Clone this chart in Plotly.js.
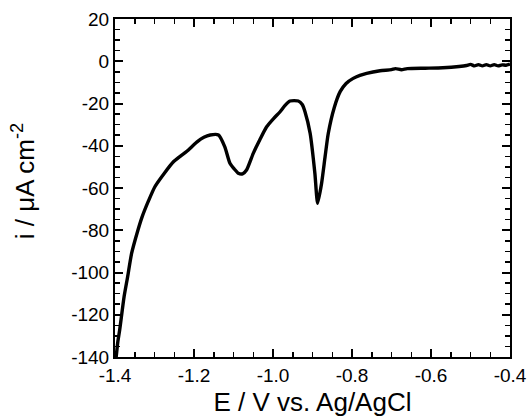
<!DOCTYPE html>
<html>
<head>
<meta charset="utf-8">
<script src="https://cdn.plot.ly/plotly-3.0.1.min.js"></script>
<style>html,body{margin:0;padding:0;background:#fff;}#chart{width:529px;height:419px;}</style>
</head>
<body>
<div id="chart"></div>
<script>
const potential = [-1.397, -1.393, -1.388, -1.377, -1.368, -1.358, -1.342, -1.332, -1.315, -1.299, -1.275, -1.252, -1.235, -1.218, -1.193, -1.175, -1.159, -1.138, -1.122, -1.109, -1.098, -1.088, -1.077, -1.067, -1.050, -1.033, -1.016, -0.998, -0.982, -0.970, -0.957, -0.936, -0.926, -0.919, -0.906, -0.894, -0.887, -0.877, -0.868, -0.860, -0.845, -0.830, -0.815, -0.797, -0.780, -0.763, -0.729, -0.700, -0.690, -0.675, -0.660, -0.615, -0.570, -0.529, -0.510, -0.500, -0.490, -0.480, -0.470, -0.460, -0.450, -0.440, -0.430, -0.420, -0.410, -0.400];
const current = [-140, -133, -127, -111.5, -102, -91, -80, -74, -66, -59.4, -53, -47.6, -45, -42.6, -38.3, -36, -34.9, -34.9, -40.5, -48.3, -51, -53, -53.3, -51.5, -43.6, -37, -31, -27, -23.9, -21, -18.8, -18.8, -20.5, -23.9, -34.1, -53, -67.2, -57.8, -45, -34.1, -22, -14.4, -10.5, -8.1, -6.7, -5.7, -4.5, -4.0, -3.5, -4.0, -3.5, -3.3, -3.1, -2.5, -2.0, -1.5, -2.2, -1.6, -2.2, -1.6, -2.2, -1.6, -2.2, -1.7, -1.9, -1.3];
const xRange = [-1.4, -0.4];
const yRange = [-140, 20];
const xTickVals = [-1.4, -1.2, -1.0, -0.8, -0.6, -0.4];
const xTickText = ['-1.4', '-1.2', '-1.0', '-0.8', '-0.6', '-0.4'];
const yTickVals = [20, 0, -20, -40, -60, -80, -100, -120, -140];
const yTickText = ['20', '0', '-20', '-40', '-60', '-80', '-100', '-120', '-140'];
const xTitle = 'E / V vs. Ag/AgCl';
const yTitle = 'i / μA cm<sup>-2</sup>';

const fam = 'Liberation Sans, Arial, sans-serif';
const tickFont = {family: fam, size: 19, color: '#000'};
const titleFont = {family: fam, size: 26, color: '#000'};
const baseAxis = {
  showline: true, linecolor: '#000', linewidth: 2, mirror: 'ticks',
  showgrid: false, zeroline: false, tickcolor: '#000', ticks: 'inside'
};
Plotly.newPlot('chart', [
  {
    x: potential, y: current, type: 'scatter', mode: 'lines',
    line: {color: '#000', width: 3.4, shape: 'spline', smoothing: 0.6},
    hoverinfo: 'none'
  },
  {x: [], y: [], xaxis: 'x2', yaxis: 'y2', type: 'scatter', mode: 'lines', hoverinfo: 'none'}
], {
  width: 529, height: 419,
  margin: {l: 115, r: 19, t: 19, b: 62},
  paper_bgcolor: '#fff', plot_bgcolor: '#fff',
  showlegend: false,
  font: tickFont,
  xaxis: Object.assign({}, baseAxis, {
    range: xRange, tickmode: 'array', tickvals: xTickVals, ticktext: xTickText,
    ticklen: 8, tickwidth: 2, tickfont: tickFont,
    title: {text: xTitle, font: titleFont, standoff: 8}
  }),
  yaxis: Object.assign({}, baseAxis, {
    range: yRange, tickmode: 'array', tickvals: yTickVals, ticktext: yTickText,
    ticklen: 8, tickwidth: 2, tickfont: tickFont
  }),
  xaxis2: Object.assign({}, baseAxis, {
    overlaying: 'x', anchor: 'y2', side: 'bottom', range: xRange,
    tickmode: 'linear', tick0: -1.4, dtick: 0.05, ticklen: 5, tickwidth: 1.5,
    showticklabels: false
  }),
  yaxis2: Object.assign({}, baseAxis, {
    overlaying: 'y', anchor: 'x2', side: 'left', range: yRange,
    tickmode: 'linear', tick0: 0, dtick: 5, ticklen: 5, tickwidth: 1.5,
    showticklabels: false
  }),
  annotations: [{
    text: yTitle, textangle: -90, font: titleFont, showarrow: false,
    xref: 'paper', yref: 'paper', x: -0.233, y: 0.52, xanchor: 'center', yanchor: 'middle'
  }]
}, {staticPlot: true, displayModeBar: false});
</script>
</body>
</html>
